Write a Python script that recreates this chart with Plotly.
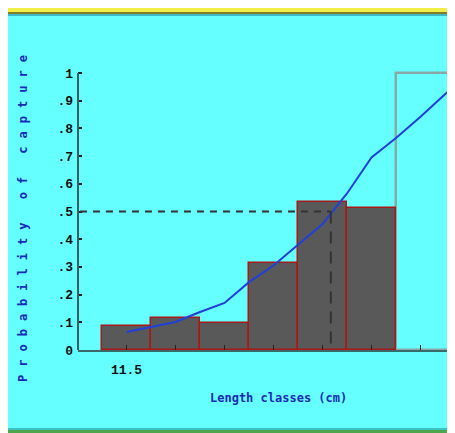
import plotly.graph_objects as go

# ---- data ----
classes = [11.5, 12.5, 13.5, 14.5, 15.5, 16.5]
observed = [0.087, 0.117, 0.097, 0.315, 0.533, 0.511]
full_class = [17.5]
full_value = [1.0]
curve_x = [11.5, 12, 12.5, 13, 13.5, 14, 14.5, 15, 15.5, 16, 16.5, 17, 17.5, 18, 18.5]
curve_y = [0.065, 0.083, 0.101, 0.137, 0.170, 0.245, 0.305, 0.38, 0.455, 0.565, 0.695, 0.765, 0.842, 0.923, 1.0]
L50 = 15.67
P50 = 0.5
x_tickvals = [11.5, 12.5, 13.5, 14.5, 15.5, 16.5, 17.5]
x_ticktext = ["11.5", "", "", "", "", "", ""]
y_tickvals = [0, 0.1, 0.2, 0.3, 0.4, 0.5, 0.6, 0.7, 0.8, 0.9, 1.0]
y_ticktext = ["0", ".1", ".2", ".3", ".4", ".5", ".6", ".7", ".8", ".9", "1"]

# page body adds an 8px white margin; figure coords = reference coords - 8
W, H = 447, 425
L, T, R = 70, 37, 0
B = H - 342
pw, ph = W - L - R, H - T - B


def px_x(px):
    return (px - L) / pw


def px_y(py):
    return (H - B - py) / ph


CYAN = "#66ffff"
fig = go.Figure()

fig.add_trace(go.Bar(
    x=full_class, y=full_value, width=[2.0], offset=-0.5,
    marker=dict(color="rgba(0,0,0,0)", line=dict(color="#8aa8a8", width=2.5)),
    hoverinfo="skip", showlegend=False, cliponaxis=True))

fig.add_trace(go.Bar(
    x=classes, y=observed, width=1,
    marker=dict(color="#595959", line=dict(color="#a81818", width=1.5)),
    showlegend=False))

fig.add_trace(go.Scatter(
    x=curve_x, y=curve_y, mode="lines",
    line=dict(color="#2040d8", width=2),
    showlegend=False))

shapes = [
    dict(type="line", xref="paper", yref="y", x0=0, x1=0, y0=0, y1=1,
         line=dict(color="#3d5c5c", width=2)),
    dict(type="line", xref="x", yref="y", x0=10.55, x1=L50, y0=P50, y1=P50,
         line=dict(color="#333333", width=2, dash="7px,6px")),
    dict(type="line", xref="x", yref="y", x0=L50, x1=L50, y0=P50, y1=0,
         line=dict(color="#333333", width=2, dash="12px,8px")),
    dict(type="rect", xref="paper", yref="paper", x0=px_x(0), x1=px_x(W),
         y0=px_y(4), y1=px_y(0), fillcolor="#f2ee48", line=dict(width=0), layer="above"),
    dict(type="rect", xref="paper", yref="paper", x0=px_x(0), x1=px_x(W),
         y0=px_y(6), y1=px_y(4), fillcolor="#7f7f2a", line=dict(width=0), layer="above"),
    dict(type="rect", xref="paper", yref="paper", x0=px_x(0), x1=px_x(W),
         y0=px_y(8), y1=px_y(6), fillcolor="#3fb8c8", line=dict(width=0), layer="above"),
    dict(type="rect", xref="paper", yref="paper", x0=px_x(0), x1=px_x(W),
         y0=px_y(H - 3), y1=px_y(H - 5), fillcolor="#3cc4c4", line=dict(width=0), layer="above"),
    dict(type="rect", xref="paper", yref="paper", x0=px_x(0), x1=px_x(W),
         y0=px_y(H), y1=px_y(H - 3), fillcolor="#4ca64c", line=dict(width=0), layer="above"),
]

annotations = [
    dict(text="<b>Length classes (cm)</b>", xref="paper", yref="paper",
         x=px_x(270), y=px_y(390), showarrow=False, xanchor="center", yanchor="middle",
         font=dict(family="DejaVu Sans Mono", size=12, color="#1a2ab8")),
    dict(text="<span style='letter-spacing:8px'><b>Probability of capture</b></span>",
         xref="paper", yref="paper", x=px_x(15), y=px_y(207), textangle=-90,
         showarrow=False, xanchor="center", yanchor="middle",
         font=dict(family="DejaVu Sans Mono", size=12, color="#1a2ab8")),
]

fig.update_layout(
    width=W, height=H,
    margin=dict(l=L, r=R, t=T, b=B, pad=0),
    paper_bgcolor=CYAN, plot_bgcolor=CYAN,
    barmode="overlay", bargap=0,
    shapes=shapes, annotations=annotations,
    xaxis=dict(range=[10.51, 10.51 + pw / 49], tickvals=x_tickvals, ticktext=x_ticktext,
               showgrid=False, zeroline=False, showline=True, linecolor="#3a6a6a", linewidth=2,
               ticks="inside", ticklen=5, tickcolor="#222222", tickwidth=1,
               tickfont=dict(family="Liberation Mono", size=13, color="#111111", weight="bold"),
               ticklabelstandoff=6),
    yaxis=dict(range=[0, ph / 277], tickvals=y_tickvals, ticktext=y_ticktext,
               showgrid=False, zeroline=False, showline=False,
               ticks="inside", ticklen=4, tickcolor="#222222", tickwidth=2,
               tickfont=dict(family="Liberation Mono", size=13, color="#111111", weight="bold"),
               ticklabelstandoff=4),
)

fig.write_html("out.html")
